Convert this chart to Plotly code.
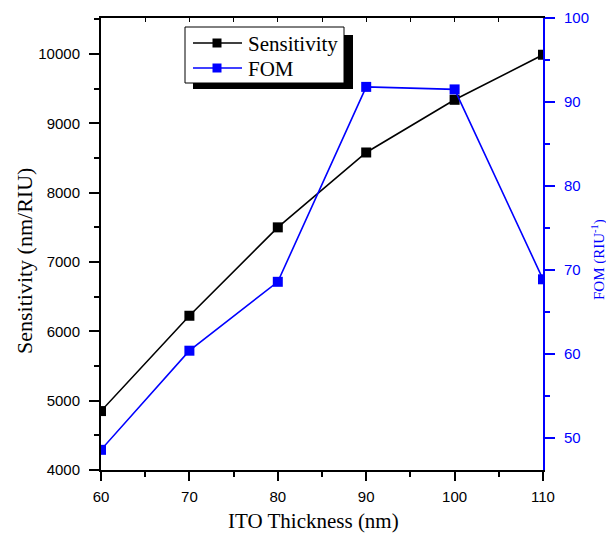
import plotly.graph_objects as go

# ITO thickness sweep
thickness = [60, 70, 80, 90, 100, 110]
sensitivity = [4850, 6225, 7500, 8580, 9340, 9990]   # nm/RIU
fom = [48.6, 60.4, 68.6, 91.8, 91.5, 68.9]           # RIU^-1
series_names = ["Sensitivity", "FOM"]

BLUE = "#0000ff"
serif = "Liberation Serif, Times New Roman, serif"
sans = "Liberation Sans, Arial, sans-serif"

W, H = 606, 534
ML, MR, MT, MB = 101, 63, 18, 64
PW, PH = W - ML - MR, H - MT - MB


def px(x):
    """pixel column -> paper x"""
    return (x - ML) / PW


def py(y):
    """pixel row -> paper y"""
    return (H - MB - y) / PH


fig = go.Figure()
fig.add_trace(go.Scatter(
    x=thickness, y=sensitivity, name=series_names[0], mode="lines+markers",
    line=dict(color="black", width=1.6), cliponaxis=True,
    marker=dict(symbol="square", size=10, color="black"),
))
fig.add_trace(go.Scatter(
    x=thickness, y=fom, name=series_names[1], mode="lines+markers", yaxis="y2",
    line=dict(color=BLUE, width=1.6), cliponaxis=True,
    marker=dict(symbol="square", size=10, color=BLUE),
))
# carrier for the top frame axis
fig.add_trace(go.Scatter(x=[60, 110], y=[None, None], xaxis="x2",
                         showlegend=False, hoverinfo="skip"))

# boxed legend with a drop shadow
shapes = [
    dict(type="rect", x0=px(193), x1=px(353), y0=py(89), y1=py(35),
         fillcolor="black", line=dict(width=0)),
    dict(type="rect", x0=px(185), x1=px(344), y0=py(83), y1=py(27),
         fillcolor="white", line=dict(color="black", width=1)),
]
annotations = []
for name, color, row in zip(series_names, ["black", BLUE], [43, 68]):
    shapes.append(dict(type="line", x0=px(193), x1=px(242), y0=py(row), y1=py(row),
                       line=dict(color=color, width=1.6)))
    shapes.append(dict(type="rect", x0=px(212.5), x1=px(221.5),
                       y0=py(row + 4.5), y1=py(row - 4.5),
                       fillcolor=color, line=dict(width=0)))
    annotations.append(dict(text=name, x=px(246), y=py(row + 1), xref="paper", yref="paper",
                            showarrow=False, xanchor="left", yanchor="middle",
                            font=dict(family=serif, size=21, color="black")))
for s in shapes:
    s.update(xref="paper", yref="paper", layer="above")

# axis titles
annotations += [
    dict(text="ITO Thickness (nm)", xref="paper", yref="paper",
         x=px(313), y=py(521), showarrow=False,
         xanchor="center", yanchor="middle",
         font=dict(family=serif, size=21, color="black")),
    dict(text="Sensitivity (nm/RIU)", xref="paper", yref="paper",
         x=px(24), y=py(261), textangle=-90, showarrow=False,
         xanchor="center", yanchor="middle",
         font=dict(family=serif, size=22, color="black")),
    dict(text="FOM (RIU<sup>-1</sup>)", xref="paper", yref="paper",
         x=px(598), y=py(260), textangle=-90, showarrow=False,
         xanchor="center", yanchor="middle",
         font=dict(family=serif, size=15, color=BLUE)),
]

fig.update_layout(
    width=W, height=H,
    margin=dict(l=ML, r=MR, t=MT, b=MB),
    paper_bgcolor="white", plot_bgcolor="white",
    showlegend=False,
    xaxis=dict(
        range=[60, 110], dtick=10, tick0=60, automargin=False,
        showline=True, linecolor="black", linewidth=2,
        tickcolor="black", tickfont=dict(family=sans, size=15, color="black"),
        ticklabelstandoff=3,
        minor=dict(ticks="outside", ticklen=5, dtick=5, tickcolor="black"),
        ticks="outside", ticklen=9, tickwidth=1.5, showgrid=False, zeroline=False,
    ),
    xaxis2=dict(
        overlaying="x", side="top", range=[60, 110], dtick=5, tick0=60,
        automargin=False,
        showline=True, linecolor="black", linewidth=2,
        ticks="inside", ticklen=4, tickcolor="black", showticklabels=False,
        showgrid=False, zeroline=False,
    ),
    yaxis=dict(
        range=[4000, 10520], dtick=1000, tick0=4000, tickformat="d",
        automargin=False,
        showline=True, linecolor="black", linewidth=2,
        tickcolor="black", tickfont=dict(family=sans, size=15, color="black"),
        ticklabelstandoff=6,
        minor=dict(ticks="outside", ticklen=5, dtick=500, tickcolor="black"),
        ticks="outside", ticklen=10, tickwidth=1.5, showgrid=False, zeroline=False,
    ),
    yaxis2=dict(
        overlaying="y", side="right", range=[46.2, 100], dtick=10, tick0=50,
        automargin=False,
        showline=True, linecolor=BLUE, linewidth=2,
        tickcolor=BLUE, tickfont=dict(family=sans, size=15, color=BLUE),
        ticklabelstandoff=6,
        minor=dict(ticks="outside", ticklen=5, dtick=5, tickcolor=BLUE),
        ticks="outside", ticklen=10, tickwidth=1.5, showgrid=False, zeroline=False,
    ),
    shapes=shapes,
    annotations=annotations,
)

fig.write_html("out.html")
